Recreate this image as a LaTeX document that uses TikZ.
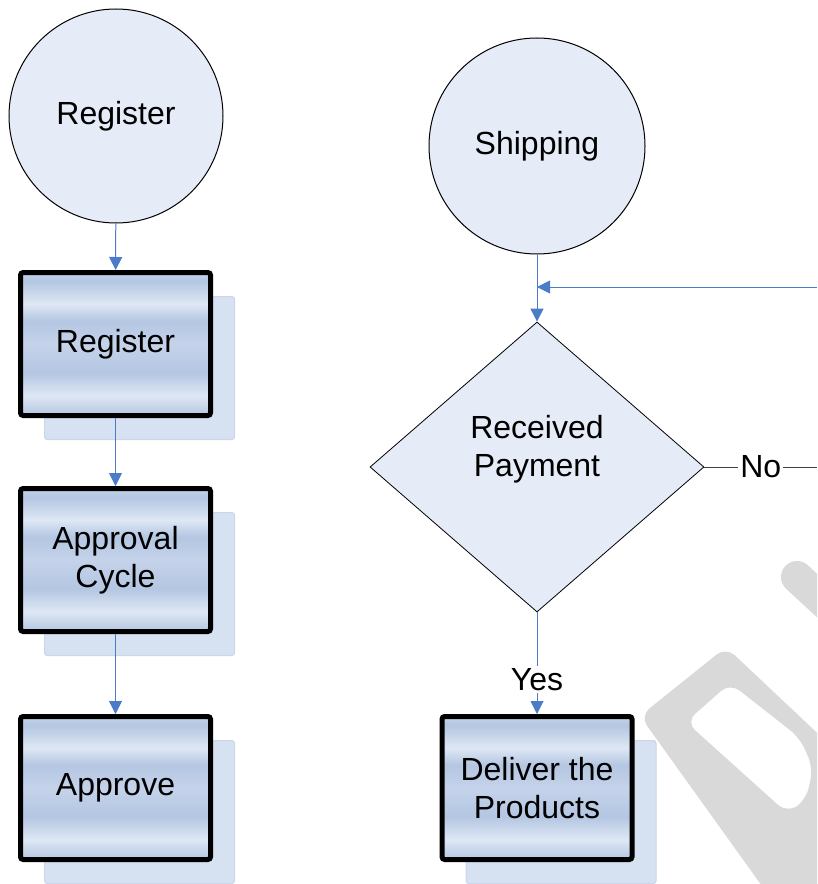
\documentclass[tikz,border=0pt]{standalone}
\usepackage{fontspec}
\setmainfont{Liberation Sans}
\usetikzlibrary{shapes.geometric,arrows.meta,shadows}

\definecolor{circfill}{HTML}{E6ECF7}
\definecolor{boxdark}{HTML}{B4C6E2}
\definecolor{boxmid}{HTML}{C5D3EA}
\definecolor{boxlight}{HTML}{DEE7F4}
\definecolor{shadowblue}{HTML}{D6E1F1}
\definecolor{shadowedge}{HTML}{C9D6EC}
\definecolor{flowblue}{HTML}{4A7CC8}

\newcommand{\flowfont}{\fontsize{24}{28.5}\selectfont}

\pgfdeclareverticalshading{boxshade}{100bp}{color(0bp)=(boxdark); color(25bp)=(boxdark); color(32bp)=(boxlight); color(40bp)=(boxdark); color(50bp)=(boxmid); color(58bp)=(boxdark); color(64bp)=(boxlight); color(72bp)=(boxdark); color(75bp)=(boxmid); color(100bp)=(boxmid)}

\tikzset{
  startcircle/.style={circle, draw=black, line width=0.75pt, fill=circfill,
    minimum size=160.5pt, inner sep=0pt, font=\flowfont},
  taskbox/.style={rectangle, rounded corners=2pt, draw=black, line width=3.75pt,
    shade, shading=boxshade, minimum width=142.5pt, minimum height=107.25pt,
    align=center, font=\flowfont,
    drop shadow={shadow xshift=18pt, shadow yshift=-18pt, fill=shadowblue,
      draw=shadowedge, line width=0.75pt, opacity=1}},
  decision/.style={diamond, draw=black, line width=0.6pt, fill=circfill,
    minimum width=250.5pt, minimum height=217.5pt, inner sep=0pt},
  flowarrow/.style={draw=flowblue, line width=0.75pt,
    -{Triangle[length=9.75pt,width=9.75pt]}},
  noline/.style={draw=black!75, line width=0.6pt},
  branchlabel/.style={fill=white, inner sep=1.5pt, font=\flowfont},
  watermark/.style={fill=black, opacity=0.15, even odd rule, rounded corners=9pt},
  watermarkbar/.style={draw=black, opacity=0.15, line width=24pt, line cap=round}
}

\begin{document}
\begin{tikzpicture}[x=0.75pt, y=-0.75pt]
    \useasboundingbox (0,0) rectangle (817,884);

    % Define nodes
    \node[startcircle]                      (reg-start)    at (116,116) {Register};
    \node[taskbox]                          (reg-task)     at (115.5,344) {Register};
    \node[taskbox]                          (cycle-task)   at (115.5,560) {Approval\\Cycle};
    \node[taskbox]                          (approve-task) at (115.5,788) {Approve};
    \node[startcircle, minimum size=162pt]  (ship-start)   at (537,146) {Shipping};
    \node[decision]                         (paid)         at (537,467) {};
    \node[font=\flowfont, align=center]     (paid-text)    at (537,449) {Received\\Payment};
    \node[taskbox]                          (deliver-task) at (537,788) {Deliver the\\Products};
    \coordinate (loop-in)   at (817,287);
    \coordinate (loop-join) at (537,287);
    \coordinate (no-out)    at (817,467);

    % Connect the nodes
    \draw[flowarrow] (reg-start) -- (reg-task);
    \draw[flowarrow] (reg-task) -- (cycle-task);
    \draw[flowarrow] (cycle-task) -- (approve-task);
    \draw[flowarrow] (ship-start) -- (paid);
    \draw[flowarrow] (loop-in) -- (loop-join);
    \draw[noline] (paid) -- node[branchlabel] (no-label) {No} (no-out);
    \draw[flowarrow] (paid) -- node[branchlabel, pos=0.66] (yes-label) {Yes} (deliver-task);

    % Watermark
    \begin{scope}
      \clip (0,0) rectangle (817,884);
      \fill[watermark] (640,716) -- (726,647) -- (830,745) -- (830,900) -- (772,900) -- cycle
        (686,722) -- (730,683) -- (800,738) -- (813,768) -- (806,800) -- (787,813) -- cycle;
      \draw[watermarkbar] (797,577) -- (850,626);
    \end{scope}

\end{tikzpicture}
\end{document}
